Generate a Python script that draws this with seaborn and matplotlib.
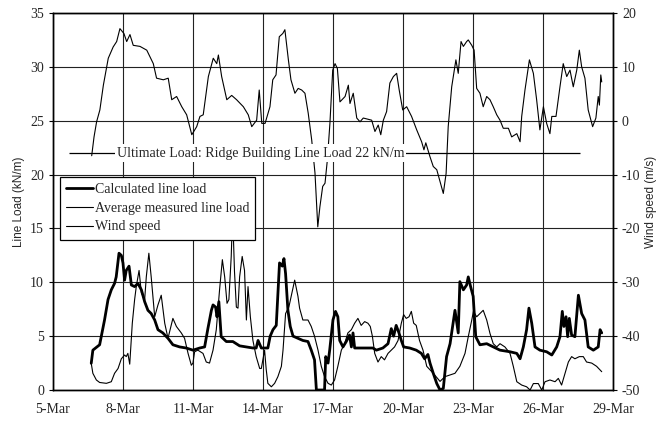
import numpy as np
import pandas as pd
import matplotlib
matplotlib.use("Agg")
import matplotlib.pyplot as plt
from matplotlib.lines import Line2D
import seaborn as sns

# time in days of March
calc_day = [6.64, 6.71, 6.86, 7.0, 7.07, 7.21, 7.36, 7.5, 7.64, 7.71, 7.83, 7.93, 8.0, 8.07, 8.14,
            8.26, 8.36, 8.5, 8.64, 8.79, 8.93, 9.07, 9.21, 9.36, 9.5, 9.71, 9.93, 10.14, 10.43, 10.71,
            11.0, 11.29, 11.5, 11.64, 11.79, 11.86, 11.97, 12.03, 12.11, 12.21, 12.43, 12.71, 13.0,
            13.29, 13.57, 13.71, 13.79, 13.93, 14.21, 14.31, 14.43, 14.57, 14.71, 14.83, 14.9, 14.97,
            15.07, 15.17, 15.29, 15.5, 15.71, 15.93, 16.07, 16.21, 16.29, 16.64, 16.69, 16.79, 16.86,
            17.0, 17.11, 17.21, 17.29, 17.43, 17.57, 17.71, 17.79, 17.86, 17.93, 18.29, 18.71, 18.86,
            19.14, 19.36, 19.5, 19.6, 19.71, 19.83, 19.93, 20.03, 20.29, 20.57, 20.79, 20.93, 21.07,
            21.16, 21.3, 21.45, 21.59, 21.73, 21.87, 22.02, 22.23, 22.37, 22.44, 22.59, 22.73, 22.8,
            22.9, 23.01, 23.12, 23.3, 23.59, 23.87, 24.16, 24.59, 24.88, 25.02, 25.16, 25.3, 25.4,
            25.52, 25.66, 25.87, 26.16, 26.38, 26.59, 26.73, 26.83, 26.9, 26.99, 27.06, 27.13, 27.23,
            27.37, 27.52, 27.66, 27.8, 27.94, 28.16, 28.37, 28.45, 28.52]
calc_load = [2.48, 3.7, 3.96, 4.2, 4.95, 6.5, 8.4, 9.3, 9.9, 10.5, 12.7, 12.5, 11.8, 10.2, 11.1,
             11.5, 9.75, 9.6, 9.9, 9.3, 8.2, 7.4, 7.1, 6.5, 5.6, 5.3, 4.8, 4.2, 4.0, 3.9,
             3.7, 3.9, 4.0, 5.7, 7.4, 7.9, 7.7, 6.8, 8.2, 4.95, 4.5, 4.5, 4.1,
             4.0, 3.9, 3.9, 4.6, 3.9, 3.9, 5.0, 5.6, 6.0, 11.8, 11.5, 12.2, 10.8,
             7.4, 5.9, 5.0, 4.8, 4.6, 4.5, 3.7, 2.8, 0.0, 0.0, 3.1, 2.5, 3.7,
             6.5, 7.3, 6.8, 4.6, 4.0, 4.5, 5.1, 4.0, 5.3, 3.9, 3.9, 3.9, 3.7,
             3.9, 4.3, 5.7, 5.0, 6.0, 5.3, 4.6, 4.0, 3.9, 3.7, 3.4, 2.9, 3.3,
             2.5, 1.55, 0.6, 0.0, 0.15, 3.1, 4.3, 7.4, 5.3, 10.06, 9.3, 9.75, 10.5,
             9.6, 8.7, 4.95, 4.2, 4.3, 4.0, 3.7, 3.55, 3.4, 2.9, 4.0, 5.6, 7.6,
             6.2, 4.0, 3.7, 3.55, 3.25, 4.0, 4.95, 7.3, 5.9, 6.8, 4.95, 6.65, 5.1,
             4.95, 8.8, 7.1, 6.5, 4.0, 3.7, 4.0, 5.6, 5.3]

meas_day = [6.64, 6.71, 6.86, 7.0, 7.29, 7.5, 7.64, 7.79, 7.93, 8.07, 8.14, 8.21, 8.29, 8.4, 8.5,
            8.57, 8.69, 8.79, 8.93, 9.0, 9.11, 9.21, 9.36, 9.5, 9.64, 9.79, 9.93, 10.14, 10.29,
            10.5, 10.64, 10.79, 10.93, 11.0, 11.07, 11.21, 11.43, 11.57, 11.71, 11.86, 12.0, 12.14,
            12.26, 12.36, 12.46, 12.54, 12.64, 12.7, 12.78, 12.86, 12.93, 13.0, 13.11, 13.21, 13.29,
            13.36, 13.46, 13.57, 13.71, 13.86, 13.93, 14.07, 14.14, 14.21, 14.36, 14.5, 14.64, 14.79,
            14.86, 14.97, 15.11, 15.21, 15.36, 15.5, 15.57, 15.71, 15.93, 16.07, 16.21, 16.36, 16.5,
            16.64, 16.79, 16.93, 17.07, 17.21, 17.36, 17.5, 17.64, 17.79, 17.93, 18.07, 18.21, 18.36,
            18.5, 18.6, 18.69, 18.79, 18.93, 19.07, 19.21, 19.36, 19.5, 19.64, 19.79, 19.93, 20.03,
            20.14, 20.26, 20.36, 20.46, 20.57, 20.71, 20.86, 21.02, 21.3, 21.59, 21.8, 22.02, 22.23,
            22.44, 22.66, 22.8, 22.95, 23.02, 23.16, 23.3, 23.44, 23.59, 23.73, 23.87, 24.02, 24.16,
            24.37, 24.59, 24.73, 24.88, 25.09, 25.3, 25.45, 25.59, 25.8, 25.95, 26.09, 26.3, 26.52,
            26.66, 26.8, 26.95, 27.09, 27.23, 27.37, 27.56, 27.73, 27.87, 28.09, 28.3, 28.52]
meas_load = [2.48, 1.55, 0.93, 0.7, 0.62, 0.77, 1.55, 2.0, 2.9, 3.25, 3.1, 3.4, 2.4, 6.2, 8.4,
             9.6, 11.1, 9.0, 8.4, 10.5, 12.7, 10.5, 6.8, 7.9, 8.8, 6.2, 4.8, 6.65, 5.9,
             5.3, 4.8, 3.4, 2.3, 2.5, 3.55, 3.7, 3.4, 2.6, 2.5, 3.7, 5.6, 9.3,
             12.1, 10.5, 8.05, 8.4, 12.4, 16.5, 11.0, 7.7, 7.6, 10.5, 12.4, 11.1, 6.5,
             9.6, 6.8, 4.6, 3.1, 2.0, 2.0, 3.7, 1.9, 0.62, 0.3, 0.62, 1.24, 2.2,
             3.7, 7.1, 7.7, 8.7, 10.2, 8.7, 7.6, 6.5, 6.5, 5.9, 5.0, 3.7, 2.2,
             1.24, 0.62, 0.46, 0.93, 2.2, 3.7, 4.3, 5.3, 5.6, 6.2, 6.65, 6.0, 6.35,
             6.2, 5.9, 5.0, 3.4, 2.6, 3.1, 2.8, 3.4, 3.7, 4.0, 4.6, 6.2, 7.0,
             6.65, 6.8, 7.3, 6.2, 6.0, 4.6, 3.7, 2.2, 1.55, 0.8, 1.24, 1.4, 1.55,
             2.2, 3.4, 4.95, 6.5, 7.3, 6.8, 7.1, 7.4, 6.5, 5.26, 4.3, 4.0, 4.3,
             4.0, 3.4, 2.2, 0.77, 0.46, 0.3, 0.0, 0.6, 0.6, 0.0, 0.77, 0.93, 0.77,
             1.08, 0.46, 1.55, 2.6, 3.1, 2.9, 3.1, 3.1, 2.6, 2.5, 2.2, 1.7]

wind_day = [6.66, 6.76, 6.87, 7.01, 7.16, 7.37, 7.58, 7.73, 7.87, 8.04, 8.16, 8.30, 8.44, 8.73, 9.02,
            9.30, 9.44, 9.73, 9.94, 10.09, 10.30, 10.52, 10.73, 10.95, 11.16, 11.30, 11.44, 11.66,
            11.87, 12.02, 12.09, 12.23, 12.45, 12.66, 12.87, 13.16, 13.37, 13.52, 13.73, 13.84, 13.95,
            14.09, 14.30, 14.42, 14.56, 14.70, 14.85, 14.94, 15.09, 15.20, 15.37, 15.51, 15.66, 15.80,
            15.94, 16.09, 16.23, 16.35, 16.44, 16.56, 16.66, 16.76, 16.87, 16.99, 17.09, 17.19, 17.30,
            17.52, 17.66, 17.73, 17.87, 18.02, 18.16, 18.30, 18.66, 18.80, 18.94, 19.05, 19.16, 19.30,
            19.44, 19.59, 19.73, 19.84, 19.99, 20.16, 20.37, 20.59, 20.80, 20.90, 20.98, 21.16, 21.30,
            21.45, 21.59, 21.73, 21.85, 21.94, 22.09, 22.27, 22.37, 22.49, 22.59, 22.73, 22.80, 22.95,
            23.05, 23.16, 23.30, 23.44, 23.59, 23.73, 23.87, 24.02, 24.16, 24.30, 24.52, 24.66, 24.88,
            25.02, 25.09, 25.23, 25.42, 25.59, 25.73, 25.87, 26.02, 26.16, 26.30, 26.38, 26.56, 26.73,
            26.87, 27.02, 27.16, 27.30, 27.45, 27.56, 27.66, 27.80, 27.94, 28.13, 28.27, 28.37, 28.42,
            28.48, 28.52]
wind_speed = [-6.5, -3.0, -0.2, 2.0, 6.6, 11.6, 13.7, 14.7, 17.1, 16.2, 14.7, 16.0, 14.0, 13.8, 13.1,
              10.6, 7.9, 7.6, 7.9, 3.9, 4.5, 2.6, 1.1, -2.6, -1.1, 0.8, 1.1, 8.2,
              11.6, 10.6, 12.2, 8.2, 3.9, 4.7, 3.9, 2.6, 1.1, -1.1, 0.1, 5.7, -0.5,
              -0.5, 2.6, 7.6, 8.5, 15.6, 16.2, 16.9, 11.3, 7.6, 5.1, 6.0, 5.7, 5.1,
              1.4, -3.6, -9.7, -19.7, -16.0, -12.2, -11.6, -7.3, -0.5, 9.4, 10.6, 9.7, 3.5,
              4.5, 6.6, 3.2, 5.1, 0.5, -0.2, 0.5, 0.1, -2.0, -0.8, -2.6, 0.1, 1.7,
              7.0, 8.2, 8.8, 5.7, 2.0, 2.6, 0.8, -1.7, -3.9, -5.4, -4.1, -6.7, -8.5,
              -9.1, -11.3, -13.5, -9.8, -1.1, 6.3, 11.3, 8.8, 14.7, 13.8, 14.7, 15.0, 14.0,
              13.1, 6.0, 5.1, 2.6, 4.5, 3.9, 2.6, 1.1, 0.1, -1.4, -1.4, -3.0, -2.4,
              -3.9, 0.8, 5.7, 11.3, 8.8, 3.9, -1.7, 2.6, -0.5, -2.4, 0.8, 0.8, 6.3,
              10.6, 8.2, 9.4, 6.3, 9.4, 13.1, 10.0, 7.9, 2.0, -1.1, 0.5, 4.5, 2.9,
              8.5, 7.2]

ultimate_load = 22
ultimate_span = [5.7, 27.6]
xtick_days = [5, 8, 11, 14, 17, 20, 23, 26, 29]
xtick_labels = [f"{d}-Mar" for d in xtick_days]

calc_df = pd.DataFrame({"day": calc_day, "load": calc_load})
meas_df = pd.DataFrame({"day": meas_day, "load": meas_load})
wind_df = pd.DataFrame({"day": wind_day, "speed": wind_speed})

sns.set_style("white")
plt.rcParams["font.family"] = ["Liberation Serif", "DejaVu Serif"]
plt.rcParams["axes.unicode_minus"] = False

fig = plt.figure(figsize=(6.58, 4.21), dpi=100)
ax = fig.add_axes([0.0805, 0.0736, 0.851, 0.8955])
ax2 = ax.twinx()

sns.lineplot(data=calc_df, x="day", y="load", ax=ax, color="black", linewidth=2.0, estimator=None)
sns.lineplot(data=meas_df, x="day", y="load", ax=ax, color="black", linewidth=0.8, estimator=None)
sns.lineplot(data=wind_df, x="day", y="speed", ax=ax2, color="black", linewidth=0.8, estimator=None)

ax.set_xlim(5, 29)
ax.set_ylim(0, 35)
ax2.set_ylim(-50, 20)
ax.set_xticks(xtick_days)
ax.set_xticklabels(xtick_labels)
ax.set_yticks(range(0, 36, 5))
ax2.set_yticks(range(-50, 21, 10))

ax.grid(True, color="#222222", linewidth=0.8)
for a in (ax, ax2):
    for s in a.spines.values():
        s.set_color("black")
        s.set_linewidth(1.0)
    a.tick_params(labelsize=10, length=3, width=0.8, color="black", direction="out")
ax.tick_params(axis="x", pad=6)

ax.set_xlabel("")
ax.set_ylabel("Line Load (kN/m)", family=["Liberation Sans", "DejaVu Sans"], fontsize=8.5, labelpad=4)
ax2.set_ylabel("Wind speed (m/s)", family=["Liberation Sans", "DejaVu Sans"], fontsize=8.5, labelpad=3)

# ultimate load reference line with label, drawn above the wind curve
ax2.hlines(ultimate_load, ultimate_span[0], ultimate_span[1], color="black", linewidth=0.9,
           transform=ax.transData, zorder=3)
ax2.text(13.9, ultimate_load, "Ultimate Load: Ridge Building Line Load 22 kN/m", fontsize=10,
         ha="center", va="center", transform=ax.transData, zorder=4,
         bbox=dict(facecolor="white", edgecolor="none", pad=1.5))

handles = [Line2D([], [], color="black", linewidth=2.0),
           Line2D([], [], color="black", linewidth=0.8),
           Line2D([], [], color="black", linewidth=0.8)]
labels = ["Calculated line load", "Average measured line load", "Wind speed"]
leg = ax2.legend(handles, labels, loc="upper left", bbox_to_anchor=(0.0125, 0.565), fontsize=10,
                 frameon=True, fancybox=False, framealpha=1, edgecolor="black", borderaxespad=0,
                 handlelength=1.9, handletextpad=0.15, borderpad=0.45, labelspacing=0.4)
leg.get_frame().set_linewidth(0.9)
leg.set_zorder(5)

fig.savefig("out.png", dpi=100)
